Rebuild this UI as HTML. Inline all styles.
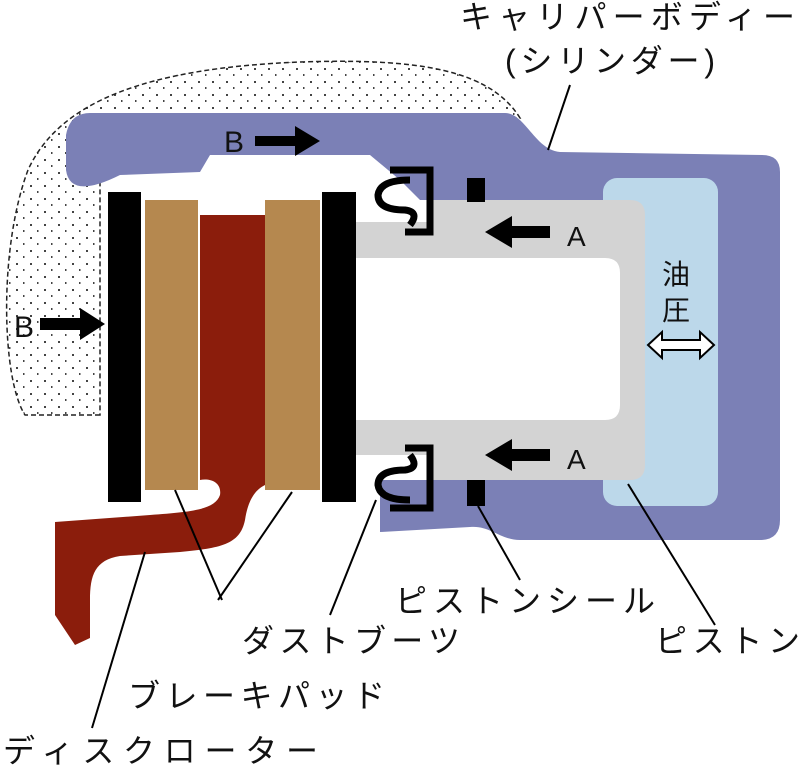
<!DOCTYPE html>
<html><head><meta charset="utf-8"><style>
html,body{margin:0;padding:0;background:#fff;width:800px;height:777px;overflow:hidden}
svg text{font-family:"Liberation Sans","Noto Sans CJK JP",sans-serif;fill:#111}
</style></head><body>
<svg width="800" height="777" viewBox="0 0 800 777" xmlns="http://www.w3.org/2000/svg">
<defs>
<pattern id="dots" width="14" height="13" patternUnits="userSpaceOnUse">
<rect x="2" y="3" width="2" height="2" fill="#444"/><rect x="9" y="9" width="1.5" height="2" fill="#444"/>
</pattern>
</defs>
<path d="M100,415 L25,415 C2,380 -2,250 28,170 C60,100 150,68 300,62 C420,58 490,70 520,118 L100,118 Z" fill="url(#dots)" stroke="#222" stroke-width="1.5" stroke-dasharray="5,3"/>
<path d="M90,113 L505,113 C525,113 535,150 560,152 L762,155 Q780,155 780,172 L780,520 Q780,540 760,540 L520,540 C500,540 490,525 470,527 L380,532 L380,470 L640,470 L640,200 L420,200 L400,180 L370,155 L210,155 L200,172 L120,175 Q70,200 66,170 L66,135 Q70,113 90,113 Z" fill="#7b80b6"/>
<rect x="603" y="178" width="115" height="328" rx="14" fill="#bcd8ea"/>
<path d="M355,200 L630,200 Q645,200 645,215 L645,465 Q645,480 630,480 L355,480 Z" fill="#d3d3d3"/>
<path d="M355,258 L605,258 Q620,258 620,273 L620,405 Q620,420 605,420 L355,420 Z" fill="#fff"/>
<rect x="355" y="200" width="75" height="22" fill="#fff"/>
<rect x="355" y="455" width="75" height="25" fill="#fff"/>
<g fill="none" stroke="#000" stroke-width="7">
<path d="M390,170 L430,170 L430,232 L405,232 M410,180 Q380,180 378,195 Q378,210 405,210 Q420,212 410,225"/>
<path d="M390,508 L430,508 L430,448 L405,448 M410,500 Q380,500 378,485 Q378,470 405,470 Q420,468 410,455"/>
</g>
<rect x="467" y="178" width="18" height="24" fill="#000"/>
<rect x="467" y="480" width="18" height="26" fill="#000"/>
<path d="M200,215 L265,215 L265,485 C255,490 248,500 245,520 C240,545 220,548 180,552 L120,556 C95,560 90,575 90,600 L90,638 L75,645 L55,615 L55,522 L150,515 C190,512 215,510 220,495 C222,482 210,478 200,480 Z" fill="#8b1d0c"/>
<rect x="145" y="200" width="53" height="290" fill="#b5884f"/>
<rect x="265" y="200" width="55" height="290" fill="#b5884f"/>
<rect x="108" y="192" width="33" height="310" fill="#000"/>
<rect x="322" y="192" width="34" height="310" fill="#000"/>
<g fill="#000">
<path d="M255,136 L295,136 L295,126 L320,141 L295,156 L295,146 L255,146 Z"/>
<path d="M40,318 L80,318 L80,308 L105,324 L80,340 L80,330 L40,330 Z"/>
<path d="M550,226 L512,226 L512,216 L485,232 L512,248 L512,238 L550,238 Z"/>
<path d="M550,449 L512,449 L512,439 L485,455 L512,471 L512,461 L550,461 Z"/>
</g>
<path d="M648,345 L662,332 L662,340 L700,340 L700,332 L714,345 L700,358 L700,350 L662,350 L662,358 Z" fill="#fff" stroke="#000" stroke-width="2"/>
<text x="224" y="152" font-size="30">B</text>
<text x="14" y="337" font-size="30">B</text>
<text x="567" y="246" font-size="28">A</text>
<text x="567" y="469" font-size="28">A</text>
<text x="662" y="284" font-size="28">油</text>
<text x="662" y="320" font-size="28">圧</text>
<g stroke="#000" stroke-width="2" fill="none">
<line x1="570" y1="85" x2="548" y2="150"/>
<line x1="175" y1="490" x2="222" y2="600"/>
<line x1="292" y1="492" x2="218" y2="600"/>
<line x1="145" y1="552" x2="92" y2="728"/>
<line x1="376" y1="500" x2="330" y2="615"/>
<line x1="478" y1="506" x2="520" y2="580"/>
<line x1="628" y1="484" x2="715" y2="625"/>
</g>
<g font-size="32">
<text x="460" y="28" textLength="335">キャリパーボディー</text>
<text x="505" y="72" textLength="210">(シリンダー)</text>
<text x="395" y="612" textLength="260">ピストンシール</text>
<text x="655" y="652" textLength="145">ピストン</text>
<text x="242" y="652" textLength="218">ダストブーツ</text>
<text x="128" y="707" textLength="257">ブレーキパッド</text>
<text x="3" y="762" textLength="315">ディスクローター</text>
</g>
</svg>
</body></html>
